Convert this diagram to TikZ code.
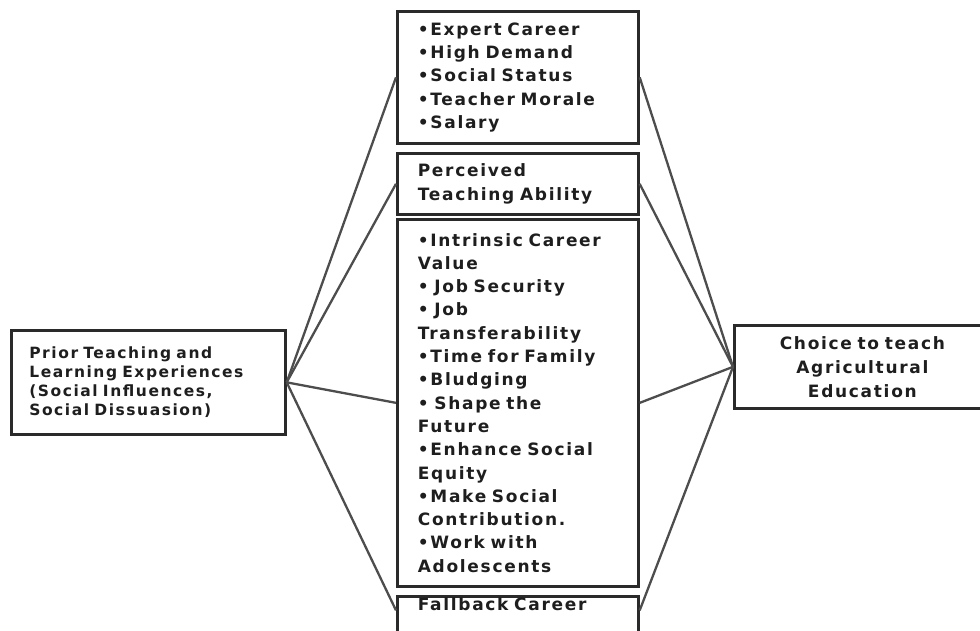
\documentclass[tikz,border=0pt]{standalone}
\usepackage{fontspec}
\setmainfont{DejaVu Sans}[LetterSpace=10, WordSpace=1.5]
\definecolor{boxline}{HTML}{2A2A2A}
\definecolor{linkline}{HTML}{4D4D4D}
\definecolor{ink}{HTML}{1E1E1E}
\tikzset{
  box/.style={draw=boxline, line width=2.7pt, inner sep=0pt, text=ink,
    font=\bfseries\fontsize{17}{23.3}\selectfont},
  listbox/.style={box, anchor=north west, minimum width=241pt,
    text width=200pt, align=left},
  link/.style={draw=linkline, line width=2.3pt},
}
\begin{document}
\begin{tikzpicture}[x=1pt,y=-1pt]
\useasboundingbox (0,0) rectangle (980,631);
\clip (0,0) rectangle (980,631);

% source and outcome
\node[box, anchor=north west, minimum width=274pt, minimum height=104pt,
  text width=238pt, align=left, font=\bfseries\fontsize{15.5}{19}\selectfont]
  (prior) at (10,329)
  {Prior Teaching  and\\Learning Experiences\\(Social Influences,\\Social Dissuasion)};
\node[box, anchor=north west, minimum width=256pt, minimum height=83pt,
  text width=240pt, align=center, font=\bfseries\fontsize{17}{24}\selectfont]
  (choice) at (733,324)
  {Choice to teach\\Agricultural\\Education};

% middle column of factors
\node[listbox, minimum height=132pt] (career) at (396,10)
  {•Expert Career\\•High Demand\\•Social Status\\•Teacher Morale\\•Salary};
\node[listbox, minimum height=61pt] (ability) at (396,152)
  {Perceived\\Teaching Ability};
\node[listbox, minimum height=367pt] (values) at (396,218)
  {•Intrinsic Career\\Value\\• Job Security\\• Job\\Transferability\\•Time for  Family\\•Bludging\\• Shape the\\Future\\•Enhance Social\\Equity\\•Make Social\\Contribution.\\•Work with\\Adolescents};
\node[listbox, text height=14pt, text depth=50pt] (fallback) at (396,595)
  {Fallback Career};

% connectors
\foreach \n in {career, ability, values}{
  \draw[link] (prior.east) -- (\n.west);
  \draw[link] (\n.east) -- (choice.west);
}
\draw[link] (prior.east) -- (fallback.base west);
\draw[link] (fallback.base east) -- (choice.west);
\end{tikzpicture}
\end{document}
